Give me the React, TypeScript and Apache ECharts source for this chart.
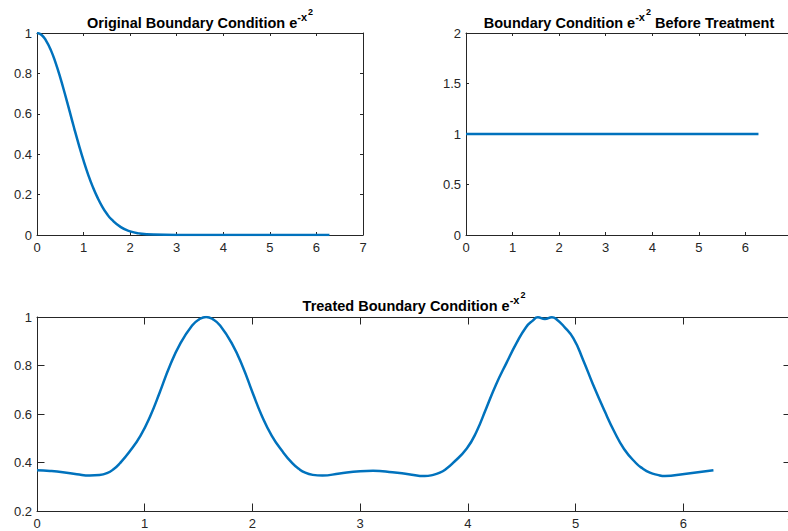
import React, { useEffect, useRef } from "react";
import * as echarts from "echarts";

// Top-left: original boundary condition
const origX = [0, 0.1, 0.2, 0.3, 0.4, 0.5, 0.6, 0.7, 0.8, 0.9, 1.0, 1.1, 1.2, 1.3, 1.4, 1.5, 1.6, 1.8, 2.0, 2.2, 2.5, 3.0, 4.0, 5.0, 6.28];
const origY = [1, 0.99, 0.96, 0.914, 0.852, 0.779, 0.698, 0.613, 0.527, 0.445, 0.368, 0.298, 0.237, 0.185, 0.141, 0.105, 0.077, 0.039, 0.018, 0.008, 0.002, 0, 0, 0, 0];

// Top-right: before treatment
const beforeX = [0, 6.28];
const beforeY = [1, 1];

// Bottom: treated boundary condition
const treatedX = [0, 0.12, 0.24, 0.37, 0.49, 0.58, 0.65, 0.71, 0.77, 0.86, 0.96, 1.05, 1.14, 1.23, 1.33, 1.44, 1.505, 1.57, 1.635, 1.7, 1.81, 1.91, 2.0, 2.09, 2.18, 2.28, 2.37, 2.43, 2.49, 2.56, 2.65, 2.81, 3.0, 3.12, 3.3, 3.45, 3.6, 3.67, 3.74, 3.8, 3.86, 3.99, 4.08, 4.17, 4.26, 4.36, 4.45, 4.54, 4.6, 4.65, 4.715, 4.78, 4.83, 4.89, 4.98, 5.07, 5.16, 5.27, 5.36, 5.45, 5.56, 5.62, 5.69, 5.76, 5.83, 6.01, 6.28];
const treatedY = [0.368, 0.365, 0.36, 0.352, 0.346, 0.348, 0.356, 0.372, 0.397, 0.445, 0.51, 0.59, 0.69, 0.795, 0.89, 0.965, 0.99, 1.0, 0.99, 0.965, 0.89, 0.795, 0.69, 0.59, 0.51, 0.445, 0.397, 0.374, 0.358, 0.349, 0.346, 0.355, 0.364, 0.366, 0.36, 0.352, 0.344, 0.348, 0.358, 0.374, 0.397, 0.458, 0.527, 0.623, 0.72, 0.812, 0.891, 0.958, 0.984, 0.999, 0.992, 0.999, 0.988, 0.962, 0.912, 0.823, 0.724, 0.612, 0.527, 0.456, 0.398, 0.376, 0.358, 0.349, 0.344, 0.353, 0.368];

const titles = [
  "{a|Original Boundary Condition e}{b|-x}{c|2}",
  "{a|Boundary Condition e}{b|-x}{c|2}{a| Before Treatment}",
  "{a|Treated Boundary Condition e}{b|-x}{c|2}",
];

const FONT = "'Liberation Sans', Arial, Helvetica, sans-serif";
const AX = "#262626";
const LINE = "#0072BD";

const zip = (xs: number[], ys: number[]) => xs.map((x, i) => [x, ys[i]]);

function xAxes(grid: number, min: number, max: number, interval: number, tick: number) {
  return [
    {
      type: "value", gridIndex: grid, position: "bottom", min, max, interval,
      axisLine: { show: true, onZero: false, lineStyle: { color: AX, width: 1 } },
      axisTick: { show: true, inside: true, length: tick, lineStyle: { color: AX } },
      axisLabel: { show: true, color: AX, fontSize: 13, fontFamily: FONT, margin: 6 },
      splitLine: { show: false },
    },
    {
      type: "value", gridIndex: grid, position: "top", min, max, interval,
      axisLine: { show: true, onZero: false, lineStyle: { color: AX, width: 1 } },
      axisTick: { show: true, inside: true, length: tick, lineStyle: { color: AX } },
      axisLabel: { show: false },
      splitLine: { show: false },
    },
  ];
}

function yAxes(grid: number, min: number, max: number, interval: number, tick: number) {
  return [
    {
      type: "value", gridIndex: grid, position: "left", min, max, interval,
      axisLine: { show: true, onZero: false, lineStyle: { color: AX, width: 1 } },
      axisTick: { show: true, inside: true, length: tick, lineStyle: { color: AX } },
      axisLabel: { show: true, color: AX, fontSize: 13, fontFamily: FONT, margin: 5 },
      splitLine: { show: false },
    },
    {
      type: "value", gridIndex: grid, position: "right", min, max, interval,
      axisLine: { show: true, onZero: false, lineStyle: { color: AX, width: 1 } },
      axisTick: { show: true, inside: true, length: tick, lineStyle: { color: AX } },
      axisLabel: { show: false },
      splitLine: { show: false },
    },
  ];
}

const rich = {
  a: { fontSize: 14.5, fontWeight: "bold", fontFamily: FONT, color: "#000", lineHeight: 28, verticalAlign: "bottom" },
  b: { fontSize: 11, fontWeight: "bold", fontFamily: FONT, color: "#000", lineHeight: 11, verticalAlign: "top", padding: [9, 0, 0, 0] },
  c: { fontSize: 9, fontWeight: "bold", fontFamily: FONT, color: "#000", lineHeight: 9, verticalAlign: "top", padding: [5, 0, 0, 1] },
};

function makeTitle(text: string, cx: number, top: number) {
  return {
    text, left: cx, top, textAlign: "center", padding: 0,
    textStyle: { rich, fontFamily: FONT },
  };
}

const gridBase = { containLabel: false, outerBoundsMode: "none" };

export default function App() {
  const ref = useRef<HTMLDivElement>(null);
  useEffect(() => {
    if (!ref.current) return;
    const chart = echarts.init(ref.current, null, { renderer: "svg" });
    const lineSeries = (xi: number, data: number[][]) => ({
      type: "line", xAxisIndex: xi, yAxisIndex: xi, data, showSymbol: false, symbol: "none",
      smooth: 0.5, lineStyle: { color: LINE, width: 2.5 }, itemStyle: { color: LINE }, z: 3,
    });
    chart.setOption({
      animation: false,
      backgroundColor: "#fff",
      title: [
        makeTitle(titles[0], 200, 2),
        makeTitle(titles[1], 629, 2),
        makeTitle(titles[2], 414, 285),
      ],
      grid: [
        { ...gridBase, left: 37, top: 33, width: 326, height: 202 },
        { ...gridBase, left: 466, top: 33, width: 326, height: 202 },
        { ...gridBase, left: 37, top: 317, width: 754, height: 194 },
      ],
      xAxis: [
        ...xAxes(0, 0, 7, 1, 3),
        ...xAxes(1, 0, 7, 1, 3),
        ...xAxes(2, 0, 7, 1, 7.5),
      ],
      yAxis: [
        ...yAxes(0, 0, 1, 0.2, 3),
        ...yAxes(1, 0, 2, 0.5, 3),
        ...yAxes(2, 0.2, 1, 0.2, 7.5),
      ],
      series: [
        lineSeries(0, zip(origX, origY)),
        lineSeries(2, zip(beforeX, beforeY)),
        lineSeries(4, zip(treatedX, treatedY)),
      ],
    });
    return () => chart.dispose();
  }, []);
  return (
    <div
      ref={ref}
      style={{ position: "absolute", left: 0, top: 0, width: 788, height: 531, background: "#fff" }}
    />
  );
}
